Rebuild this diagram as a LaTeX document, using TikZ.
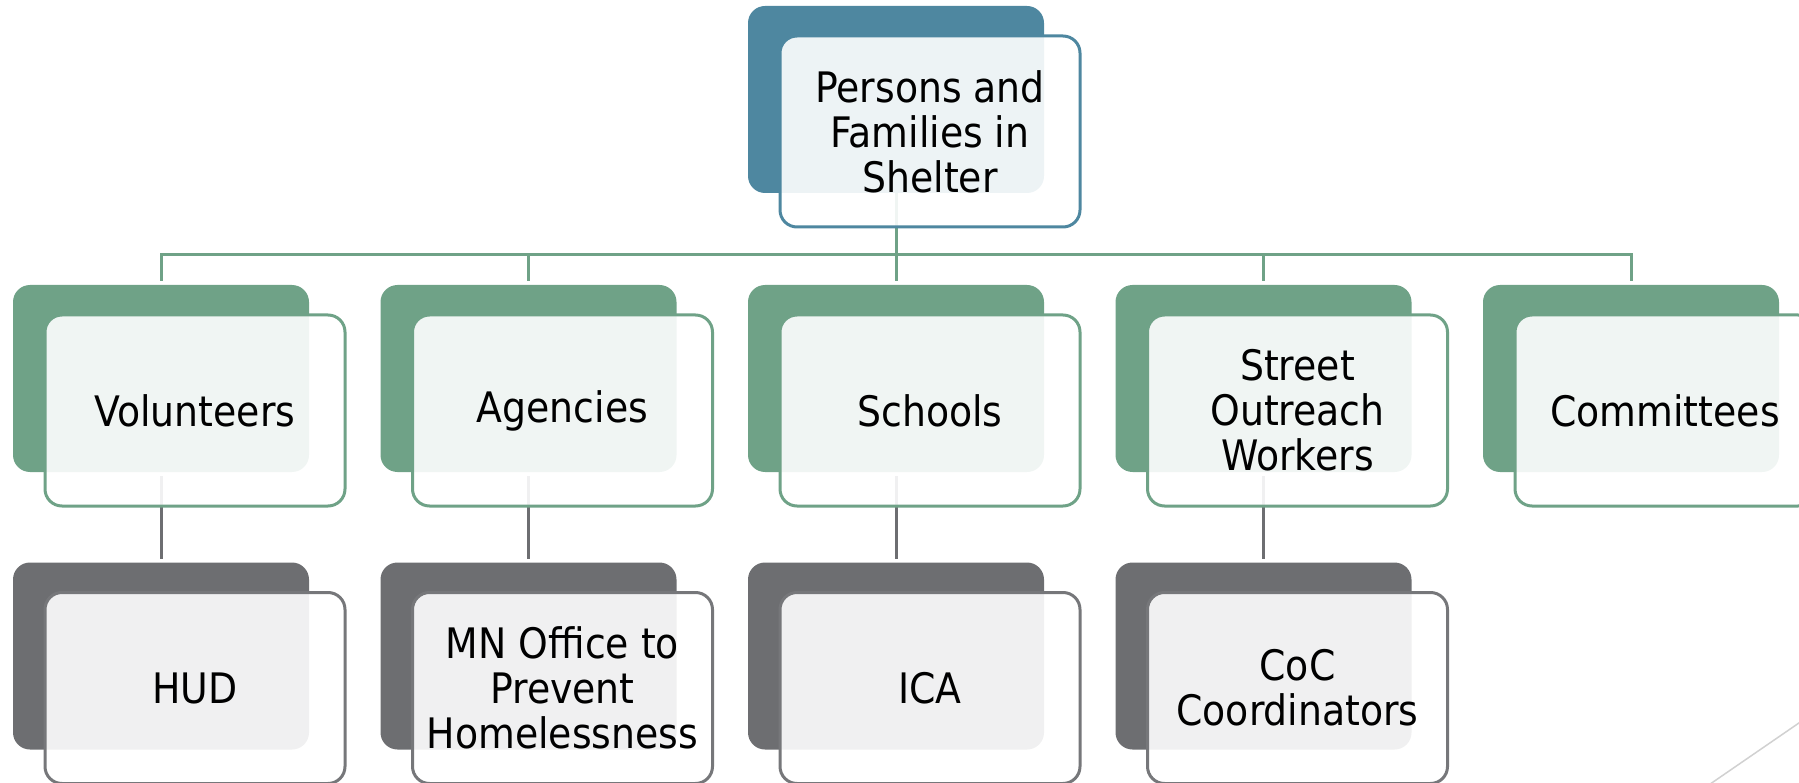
\documentclass[tikz,border=0pt]{standalone}
\usepackage{fontspec}
\IfFontExistsTF{DejaVu Sans Condensed}{\setmainfont{DejaVu Sans Condensed}}{\setmainfont{DejaVu Sans}[FakeStretch=0.88]}
\usetikzlibrary{backgrounds}
\definecolor{cblue}{HTML}{4E87A0}
\definecolor{cgreen}{HTML}{6FA287}
\definecolor{cgray}{HTML}{6D6E71}
\definecolor{cgrayline}{HTML}{76777A}
\tikzset{
  backbox/.style={fill=#1, rounded corners=17pt, minimum width=296pt, minimum height=187pt, inner sep=0pt, outer sep=0pt},
  frontbox/.style={draw=#1, line width=3pt, fill=white, fill opacity=0.9, text opacity=1, rounded corners=17pt,
    minimum width=300pt, minimum height=191pt, inner sep=0pt, align=center, text=black,
    font=\fontsize{42}{45}\selectfont},
  link/.style={line width=3pt, draw=#1},
}
\begin{document}
\begin{tikzpicture}[x=1pt,y=-1pt]
\useasboundingbox (0,0) rectangle (1799,783);
\clip (0,0) rectangle (1799,783);
% top
\node[backbox=cblue] (topb) at (896,99.5) {};
\node[frontbox=cblue] (top) at (930,131.5) {Persons and\\Families in\\Shelter};
% middle row
\node[backbox=cgreen] (c0b) at (161,378.5) {};
\node[frontbox=cgreen] (c0) at (195,410.5) {Volunteers};
\node[backbox=cgreen] (c1b) at (528.5,378.5) {};
\node[frontbox=cgreen] (c1) at (562.5,410.5) {Agencies};
\node[backbox=cgreen] (c2b) at (896,378.5) {};
\node[frontbox=cgreen] (c2) at (930,410.5) {Schools};
\node[backbox=cgreen] (c3b) at (1263.5,378.5) {};
\node[frontbox=cgreen] (c3) at (1297.5,410.5) {Street\\Outreach\\Workers};
\node[backbox=cgreen] (c4b) at (1631,378.5) {};
\node[frontbox=cgreen] (c4) at (1665,410.5) {Committees};
% bottom row
\node[backbox=cgray] (d0b) at (161,656) {};
\node[frontbox=cgrayline] (d0) at (195,688) {HUD};
\node[backbox=cgray] (d1b) at (528.5,656) {};
\node[frontbox=cgrayline] (d1) at (562.5,688) {MN Office to\\Prevent\\Homelessness};
\node[backbox=cgray] (d2b) at (896,656) {};
\node[frontbox=cgrayline] (d2) at (930,688) {ICA};
\node[backbox=cgray] (d3b) at (1263.5,656) {};
\node[frontbox=cgrayline] (d3) at (1297.5,688) {CoC\\Coordinators};
% connectors
\begin{scope}[on background layer]
\foreach \i in {0,...,4}{
  \draw[link=cgreen, shorten >=4pt] (topb.south) -- ++(0,62) -| (c\i b.north);
}
\foreach \i in {0,...,3}{
  \draw[link=cgray, shorten <=4pt, shorten >=4pt] (c\i b.south) -- (d\i b.north);
}
\end{scope}
% slide decoration
\draw[line width=1.5pt, draw=black!18] (1700,791) -- (1812,714);
\end{tikzpicture}
\end{document}
